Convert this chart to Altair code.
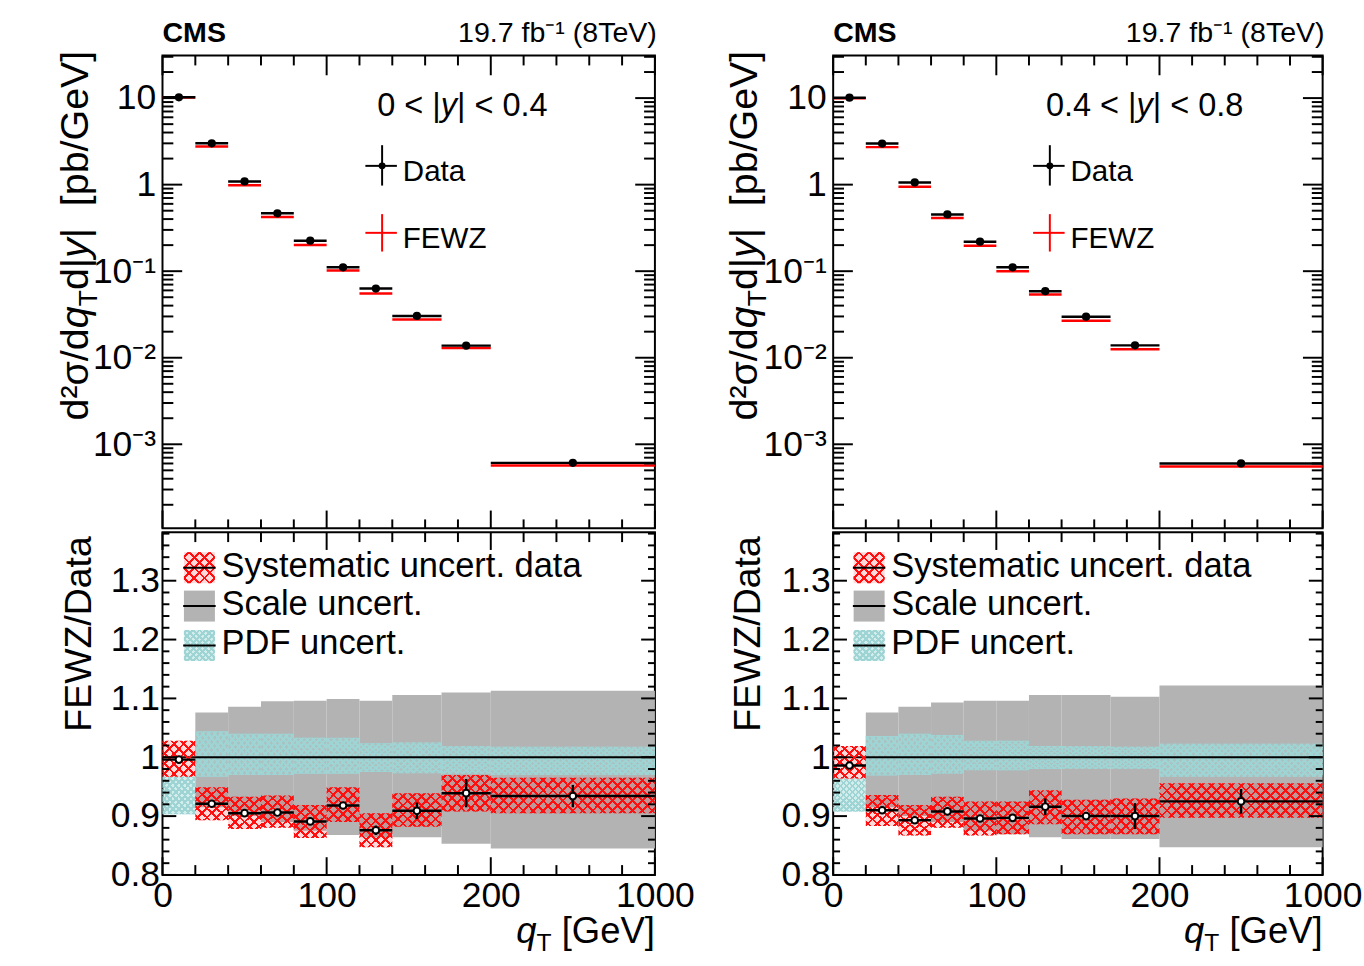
import math
import altair as alt
import pandas as pd

FONT = "Liberation Sans"

# ---------------- data ----------------
q_lo = [0, 20, 40, 60, 80, 100, 120, 140, 170, 200]
q_hi = [20, 40, 60, 80, 100, 120, 140, 170, 200, 1000]

# panel A : 0 < |y| < 0.4
data_a = [10.2, 3.0, 1.09, 0.466, 0.225, 0.111, 0.063, 0.0304, 0.0138, 6.1e-4]
ratio_a = [0.996, 0.921, 0.905, 0.906, 0.891, 0.918, 0.876, 0.909, 0.939, 0.934]
stat_a = [0.004, 0.004, 0.004, 0.004, 0.005, 0.006, 0.008, 0.014, 0.024, 0.019]
sys_lo_a = [0.967, 0.893, 0.878, 0.880, 0.863, 0.890, 0.847, 0.882, 0.908, 0.905]
sys_hi_a = [1.028, 0.949, 0.933, 0.935, 0.919, 0.949, 0.905, 0.939, 0.970, 0.965]
scale_lo_a = [None, 0.915, 0.900, 0.890, 0.875, 0.868, 0.864, 0.864, 0.853, 0.845]
scale_hi_a = [None, 1.076, 1.086, 1.095, 1.096, 1.099, 1.096, 1.106, 1.110, 1.113]
pdf_lo_a = [0.903, 0.967, 0.970, 0.970, 0.972, 0.972, 0.975, 0.973, 0.972, 0.970]
pdf_hi_a = [0.967, 1.044, 1.040, 1.040, 1.033, 1.033, 1.024, 1.025, 1.019, 1.018]

# panel B : 0.4 < |y| < 0.8
data_b = [10.1, 2.98, 1.06, 0.453, 0.219, 0.111, 0.0587, 0.0298, 0.0139, 6.0e-4]
ratio_b = [0.986, 0.910, 0.893, 0.908, 0.896, 0.897, 0.916, 0.900, 0.900, 0.925]
stat_b = [0.004, 0.004, 0.004, 0.004, 0.005, 0.005, 0.014, 0.006, 0.022, 0.021]
sys_lo_b = [0.964, 0.883, 0.867, 0.880, 0.867, 0.869, 0.886, 0.869, 0.869, 0.897]
sys_hi_b = [1.019, 0.936, 0.919, 0.933, 0.925, 0.925, 0.944, 0.928, 0.930, 0.956]
scale_lo_b = [None, 0.915, 0.900, 0.890, 0.875, 0.869, 0.864, 0.861, 0.861, 0.847]
scale_hi_b = [None, 1.076, 1.086, 1.093, 1.096, 1.096, 1.106, 1.106, 1.103, 1.122]
pdf_lo_b = [0.908, 0.969, 0.970, 0.972, 0.978, 0.978, 0.980, 0.980, 0.980, 0.967]
pdf_hi_b = [0.964, 1.036, 1.040, 1.038, 1.028, 1.028, 1.019, 1.019, 1.018, 1.023]

range_lo = ["0", "0.4"]
range_hi = ["0.4", "0.8"]

x_tick_values = [0, 100, 200, 300]
x_tick_labels = ["0", "100", "200", "1000"]
log_major = [1e-3, 1e-2, 1e-1, 1, 10]
log_labels = ["10⁻³", "10⁻²", "10⁻¹", "1", "10"]
ratio_major = [0.8, 0.9, 1.0, 1.1, 1.2, 1.3]

# ---------------- geometry / style ----------------
W_A, W_B = 500, 497
H_UP, H_LO = 480, 348
Y_UP_DOM = [1.07e-4, 31]
Y_LO_DOM = [0.8, 1.3824]

RED = "#ff1010"
GREY = "#b3b3b3"
CYAN = "#9ed4d4"
CLEAR = "rgba(255,255,255,0)"
RED_STYLE = (RED, 0.16, 7.0, 2.0)     # colour, tint opacity, stripe period, stripe width
CYAN_STYLE = (CYAN, 0.45, 4.5, 2.0)

# advance widths (em) of Liberation Sans (Arial metrics)
ADV = {' ': .278, '0': .556, '1': .556, '2': .556, '3': .556, '4': .556, '5': .556, '6': .556,
       '7': .556, '8': .556, '9': .556, '.': .278, '<': .584, '|': .26, 'y': .5, 'd': .556,
       'q': .556, '[': .278, ']': .278, 'p': .556, 'b': .556, '/': .278, 'G': .778, 'e': .556,
       'V': .667, 'T': .611, 'σ': .617, '²': .333, 'F': .611, 'E': .667, 'W': .944, 'Z': .611,
       'D': .722, 'a': .556, 't': .278}


def twidth(s, size):
    return sum(ADV.get(c, 0.556) for c in s) * size


def disp(q):
    # compressed display of the last bin (200-1000 drawn as 200-300)
    return q if q <= 200 else 200 + (q - 200) / 8.0


x_minor = [v for v in range(0, 301, 20) if v not in x_tick_values]
log_minor = [k * 10.0 ** e for e in range(-4, 2) for k in range(2, 10)
             if Y_UP_DOM[0] <= k * 10.0 ** e <= Y_UP_DOM[1]]
ratio_minor = [round(0.8 + 0.02 * i, 2) for i in range(0, 30)
               if round(0.8 + 0.02 * i, 2) not in ratio_major and 0.8 + 0.02 * i < Y_LO_DOM[1]]

xs = alt.Scale(domain=[0, 300], nice=False, zero=False)
ys_up = alt.Scale(type="log", domain=Y_UP_DOM, nice=False)
ys_lo = alt.Scale(domain=Y_LO_DOM, nice=False, zero=False)


def label_expr(values, texts):
    expr = "''"
    for v, t in zip(values, texts):
        expr = "abs(datum.value - %r) < %r ? '%s' : " % (float(v), float(v) * 1e-4 + 1e-9, t) + expr
    return expr


def hatch(w, h, period, thick, color, forward):
    """Striped linear gradient imitating a ROOT hatch (45 degree stripes on a w x h px box)."""
    length = (w + h) / math.sqrt(2)
    k = (w + h) / (w * w + h * h)
    n = max(1, int(round(length / period)))
    tf = min(thick / length, 0.45 / n)
    stops = []
    for i in range(n):
        s = (i + 0.5) / n - tf / 2
        stops += [(s, CLEAR), (s, color), (s + tf, color), (s + tf, CLEAR)]
    if forward:
        x1, y1, x2, y2 = 0, 0, k * w, k * h
    else:
        x1, y1, x2, y2 = 0, 1, k * w, 1 - k * h
    return {"gradient": "linear", "x1": x1, "y1": y1, "x2": x2, "y2": y2,
            "stops": [{"offset": round(o, 5), "color": c} for o, c in stops]}


def text(t, x, y, size, align="left", baseline="middle", weight="normal", style="normal", angle=0):
    return alt.Chart(pd.DataFrame({"t": [t]})).mark_text(
        font=FONT, fontSize=size, align=align, baseline=baseline, fontWeight=weight,
        fontStyle=style, angle=angle, color="black").encode(
        x=alt.value(x), y=alt.value(y), text="t:N")


def rich_h(pieces, x_start, y_base):
    out, x = [], x_start
    for t, it, size, dy in pieces:
        lead = twidth(t[:len(t) - len(t.lstrip())], size)
        out.append(text(t.strip(), x + lead, y_base + dy, size, baseline="alphabetic",
                        style="italic" if it else "normal"))
        x += twidth(t, size)
    return out


def rich_v(pieces, x_base, y_top):
    total = sum(twidth(t, s) for t, _, s, _ in pieces)
    out, y = [], y_top + total
    for t, it, size, dx in pieces:
        lead = twidth(t[:len(t) - len(t.lstrip())], size)
        out.append(text(t.strip(), x_base + dx, y - lead, size, baseline="alphabetic",
                        style="italic" if it else "normal", angle=270))
        y -= twidth(t, size)
    return out


def hrule(x0, x1, y, color, width, opacity=1):
    return alt.Chart(pd.DataFrame({"a": [0]})).mark_rule(
        color=color, strokeWidth=width, opacity=opacity).encode(
        x=alt.value(x0), x2=alt.value(x1), y=alt.value(y))


def vrule(x, y0, y1, color, width):
    return alt.Chart(pd.DataFrame({"a": [0]})).mark_rule(color=color, strokeWidth=width).encode(
        x=alt.value(x), y=alt.value(y0), y2=alt.value(y1))


def panel(W, data, ratio, stat, sys_lo, sys_hi, sc_lo, sc_hi, pdf_lo, pdf_hi, rlo, rhi,
          tx_up, tx_lo, ann_x, leg_x, leg2_x):
    df = pd.DataFrame({
        "x0": [disp(v) for v in q_lo],
        "x1": [disp(v) for v in q_hi],
        "data": data,
        "ratio": ratio,
        "stat": stat,
        "sys_lo": sys_lo, "sys_hi": sys_hi,
        "sc_lo": sc_lo, "sc_hi": sc_hi,
        "pdf_lo": pdf_lo, "pdf_hi": pdf_hi,
    })
    df["xc"] = (df["x0"] + df["x1"]) / 2
    df["wd"] = df["x1"] - df["x0"]
    df["fewz"] = df["data"] * df["ratio"]
    df["r_lo"] = df["ratio"] - df["stat"]
    df["r_hi"] = df["ratio"] + df["stat"]

    base = alt.Chart(df)
    px = W / 300.0

    # ---------- upper ----------
    ax_up = alt.Axis(values=log_major, labelExpr=label_expr(log_major, log_labels),
                     ticks=False, domain=False, grid=False, labelFont=FONT,
                     labelFontSize=36, labelColor="black", labelPadding=7, title=None)
    XN = dict(scale=xs, axis=None)
    YU = dict(scale=ys_up, axis=ax_up)

    fewz = base.mark_rule(color="#ff0000", strokeWidth=2.5).encode(
        x=alt.X("x0:Q", **XN), x2="x1:Q", y=alt.Y("fewz:Q", **YU))
    dat = base.mark_rule(color="black", strokeWidth=2.5).encode(
        x=alt.X("x0:Q", **XN), x2="x1:Q", y=alt.Y("data:Q", **YU))
    dots = base.mark_point(shape="circle", filled=True, size=70, color="black", opacity=1).encode(
        x=alt.X("xc:Q", **XN), y=alt.Y("data:Q", **YU))

    up_layers = [fewz, dat, dots]
    for vals, lt, lb in ((x_tick_values, 20, 18), (x_minor, 10, 9)):
        b = alt.Chart(pd.DataFrame({"v": vals})).mark_rule(color="black", strokeWidth=2)
        up_layers.append(b.encode(x=alt.X("v:Q", **XN), y=alt.value(0), y2=alt.value(lt)))
        up_layers.append(b.encode(x=alt.X("v:Q", **XN), y=alt.value(H_UP), y2=alt.value(H_UP - lb)))
    for vals, ln in ((log_major, 20), (log_minor, 11)):
        b = alt.Chart(pd.DataFrame({"v": vals})).mark_rule(color="black", strokeWidth=2)
        up_layers.append(b.encode(y=alt.Y("v:Q", **YU), x=alt.value(0), x2=alt.value(ln)))
        up_layers.append(b.encode(y=alt.Y("v:Q", **YU), x=alt.value(W), x2=alt.value(W - ln)))

    up_layers.append(text("CMS", 0, -14, 29, baseline="alphabetic", weight="bold"))
    up_layers.append(text("19.7 fb⁻¹ (8TeV)", W + 2, -14, 29, align="right", baseline="alphabetic"))
    up_layers += rich_h([(rlo + " < |", False, 33, 0), ("y", True, 33, 0), ("| < " + rhi, False, 33, 0)],
                        ann_x, 61)
    up_layers += rich_v([("d²σ/d", False, 40, 0), ("q", True, 40, 0), ("T", False, 27, 9),
                         ("d|", False, 40, 0), ("y", True, 40, 0), ("|", False, 40, 0),
                         ("  [pb/GeV]", False, 40, 0)],
                        tx_up, -5)
    for cy, col, name, y0, y1 in ((112, "black", "Data", 91, 132), (180, "#ff0000", "FEWZ", 161, 199)):
        up_layers.append(vrule(leg_x, y0, y1, col, 2))
        up_layers.append(hrule(leg_x - 17, leg_x + 15, cy, col, 2))
        up_layers.append(text(name, leg_x + 21, cy + 6, 30))
    up_layers.append(alt.Chart(pd.DataFrame({"a": [0]})).mark_point(
        shape="circle", filled=True, size=50, color="black", opacity=1)
        .encode(x=alt.value(leg_x), y=alt.value(112)))

    upper = alt.layer(*up_layers).properties(width=W, height=H_UP)

    # ---------- lower ----------
    ax_ly = alt.Axis(values=ratio_major,
                     labelExpr="abs(datum.value - 1) < 0.000001 ? '1' : format(datum.value, '.1f')",
                     ticks=False, domain=False, grid=False, labelFont=FONT,
                     labelFontSize=36, labelColor="black", labelPadding=3, title=None)
    ax_lx = alt.Axis(values=x_tick_values, labelExpr=label_expr(x_tick_values, x_tick_labels),
                     ticks=False, domain=False, grid=False, labelFont=FONT, labelFontSize=36,
                     labelColor="black", labelPadding=4, labelFlush=False, title=None)
    XL = dict(scale=xs, axis=ax_lx)
    YL = dict(scale=ys_lo, axis=ax_ly)

    scale_band = base.transform_filter("isValid(datum.sc_lo)").mark_rect(color=GREY).encode(
        x=alt.X("x0:Q", **XL), x2="x1:Q", y=alt.Y("sc_lo:Q", **YL), y2="sc_hi:Q")
    lo_layers = [scale_band]

    # hatched bands: a light tint plus two crossing sets of stripes per bin-width class
    for lo_f, hi_f, style, h in (("pdf_lo", "pdf_hi", CYAN_STYLE, 34), ("sys_lo", "sys_hi", RED_STYLE, 35)):
        col, tint, period, thick = style
        lo_layers.append(base.mark_rect(color=col, opacity=tint).encode(
            x=alt.X("x0:Q", **XL), x2="x1:Q", y=alt.Y(lo_f + ":Q", **YL), y2=hi_f + ":Q"))
        for wd in sorted(set(df["wd"])):
            for fwd in (True, False):
                lo_layers.append(base.transform_filter("abs(datum.wd - %r) < 0.01" % float(wd))
                                 .mark_rect(fill=hatch(wd * px, h, period, thick, col, fwd))
                                 .encode(x=alt.X("x0:Q", **XL), x2="x1:Q",
                                         y=alt.Y(lo_f + ":Q", **YL), y2=hi_f + ":Q"))
        if lo_f == "pdf_lo":
            lo_layers.append(alt.Chart(pd.DataFrame({"v": [1.0]})).mark_rule(
                color="black", strokeWidth=2).encode(y=alt.Y("v:Q", **YL)))

    rbar = base.mark_rule(color="black", strokeWidth=2.5).encode(
        x=alt.X("x0:Q", **XL), x2="x1:Q", y=alt.Y("ratio:Q", **YL))
    rerr = base.mark_rule(color="black", strokeWidth=2.5).encode(
        x=alt.X("xc:Q", **XL), y=alt.Y("r_lo:Q", **YL), y2="r_hi:Q")
    rdot = base.mark_point(shape="circle", filled=True, size=45, fill="white", stroke="black",
                           strokeWidth=2, opacity=1).encode(
        x=alt.X("xc:Q", **XL), y=alt.Y("ratio:Q", **YL))
    lo_layers += [rbar, rerr, rdot]

    for vals, lt, lb in ((x_tick_values, 18, 18), (x_minor, 10, 10)):
        b = alt.Chart(pd.DataFrame({"v": vals})).mark_rule(color="black", strokeWidth=2)
        lo_layers.append(b.encode(x=alt.X("v:Q", **XL), y=alt.value(0), y2=alt.value(lt)))
        lo_layers.append(b.encode(x=alt.X("v:Q", **XL), y=alt.value(H_LO), y2=alt.value(H_LO - lb)))
    for vals, ln in ((ratio_major, 14), (ratio_minor, 7)):
        b = alt.Chart(pd.DataFrame({"v": vals})).mark_rule(color="black", strokeWidth=2)
        lo_layers.append(b.encode(y=alt.Y("v:Q", **YL), x=alt.value(0), x2=alt.value(ln)))
        lo_layers.append(b.encode(y=alt.Y("v:Q", **YL), x=alt.value(W), x2=alt.value(W - ln)))

    # legend of the ratio pad
    one_row = pd.DataFrame({"a": [0]})
    for (ym, style, name) in ((36, RED_STYLE, "Systematic uncert. data"),
                              (75, None, "Scale uncert."),
                              (115, CYAN_STYLE, "PDF uncert.")):
        cx, cy = leg2_x + 16.5, ym
        if style is None:
            lo_layers.append(alt.Chart(one_row).mark_point(
                shape="square", size=990, filled=True, color=GREY, opacity=1, strokeWidth=0)
                .encode(x=alt.value(cx), y=alt.value(cy)))
        else:
            col, tint, period, thick = style
            lo_layers.append(alt.Chart(one_row).mark_point(
                shape="square", size=990, filled=True, color=col, opacity=tint, strokeWidth=0)
                .encode(x=alt.value(cx), y=alt.value(cy)))
            for fwd in (True, False):
                lo_layers.append(alt.Chart(one_row).mark_point(
                    shape="square", size=990, filled=True, opacity=1, strokeWidth=0,
                    fill=hatch(31.5, 31.5, period, thick, col, fwd))
                    .encode(x=alt.value(cx), y=alt.value(cy)))
        lo_layers.append(hrule(leg2_x, leg2_x + 33, ym, "black", 2))
        lo_layers.append(text(name, leg2_x + 39, ym - 2, 35))

    # axis titles
    lo_layers += rich_v([("FEWZ/Data", False, 38, 0)], tx_lo, 4)
    xt = [("q", True, 37, 0), ("T", False, 25, 8), (" [GeV]", False, 37, 0)]
    lo_layers += rich_h(xt, W - sum(twidth(t, s) for t, _, s, _ in xt), H_LO + 69)

    lower = alt.layer(*lo_layers).properties(width=W, height=H_LO)
    return alt.vconcat(upper, lower, spacing=0)


left = panel(W_A, data_a, ratio_a, stat_a, sys_lo_a, sys_hi_a, scale_lo_a, scale_hi_a,
             pdf_lo_a, pdf_hi_a, range_lo[0], range_hi[0], -76, -73, 218, 223, 21)
right = panel(W_B, data_b, ratio_b, stat_b, sys_lo_b, sys_hi_b, scale_lo_b, scale_hi_b,
              pdf_lo_b, pdf_hi_b, range_lo[1], range_hi[1], -77, -74, 216, 220, 20)

chart = alt.hconcat(left, right, spacing=28).properties(
    padding={"left": 55, "top": 11, "right": 0, "bottom": 0}, background="white"
).configure_view(stroke="black", strokeWidth=2)

chart.save("out.html", embed_options={"renderer": "svg", "actions": False})
